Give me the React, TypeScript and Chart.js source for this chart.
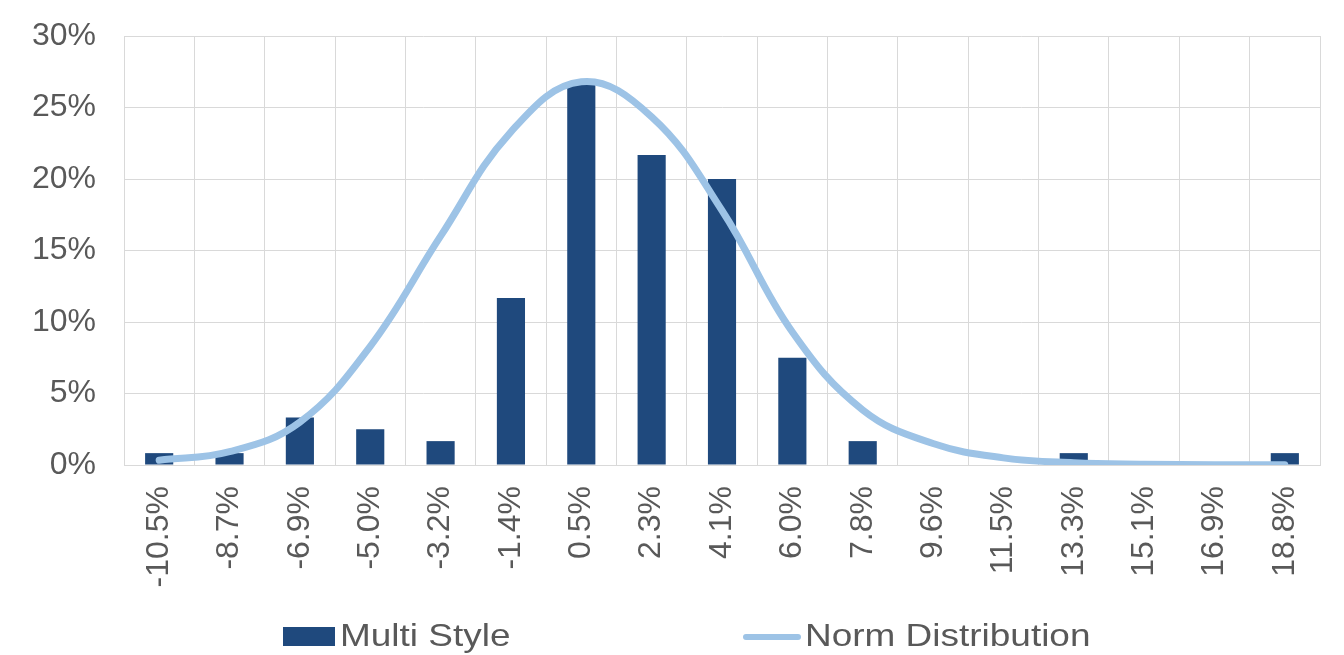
import React, { useEffect, useRef } from "react";
import { Chart, registerables } from "chart.js";

Chart.register(...registerables);

const categories = [
  "-10.5%", "-8.7%", "-6.9%", "-5.0%", "-3.2%", "-1.4%", "0.5%", "2.3%", "4.1%",
  "6.0%", "7.8%", "9.6%", "11.5%", "13.3%", "15.1%", "16.9%", "18.8%",
];

const multiStyle = [
  0.83, 0.83, 3.33, 2.5, 1.67, 11.67, 26.67, 21.67, 20.0,
  7.5, 1.67, 0, 0, 0.83, 0, 0, 0.83,
];

const normDistribution = [
  0.33, 0.93, 3.0, 8.3, 16.0, 23.3, 26.8, 24.35, 17.8,
  9.3, 3.85, 1.5, 0.5, 0.16, 0.06, 0.02, 0.01,
];

const yTicks = [0, 5, 10, 15, 20, 25, 30];

const FONT = "'Liberation Sans', Arial, sans-serif";
const TEXT = "#595959";
const GRID = "#d9d9d9";
const BAR = "#1f497d";
const LINE = "#9dc3e6";

export default function App() {
  const ref = useRef<HTMLCanvasElement | null>(null);

  useEffect(() => {
    if (!ref.current) return;
    const chart = new Chart(ref.current, {
      type: "bar",
      data: {
        labels: categories,
        datasets: [
          {
            type: "bar",
            label: "Multi Style",
            data: multiStyle,
            backgroundColor: BAR,
            categoryPercentage: 1,
            barPercentage: 0.4,
            order: 2,
          },
          {
            type: "line",
            label: "Norm Distribution",
            data: normDistribution,
            borderColor: LINE,
            backgroundColor: LINE,
            borderWidth: 7,
            borderCapStyle: "round",
            borderJoinStyle: "round",
            pointRadius: 0,
            tension: 0.4,
            fill: false,
            order: 1,
          },
        ],
      },
      options: {
        animation: false,
        responsive: false,
        devicePixelRatio: 1,
        layout: { padding: { left: 0, right: 24, top: 36, bottom: 40 } },
        plugins: {
          legend: { display: false },
          tooltip: { enabled: false },
        },
        scales: {
          x: {
            offset: true,
            grid: { color: GRID, lineWidth: 1, drawTicks: false, offset: true },
            border: { color: GRID, width: 1 },
            ticks: {
              autoSkip: false,
              maxRotation: 90,
              minRotation: 90,
              padding: 21,
              color: TEXT,
              font: { family: FONT, size: 32 },
            },
            afterFit: (scale: any) => {
              scale.height = 150;
              scale.paddingTop = 0;
              scale.paddingBottom = 0;
              scale.paddingLeft = 0;
              scale.paddingRight = 0;
            },
          },
          y: {
            min: 0,
            max: 30,
            afterBuildTicks: (scale: any) => {
              scale.ticks = yTicks.map((v) => ({ value: v }));
            },
            grid: { color: GRID, lineWidth: 1, drawTicks: false },
            border: { color: GRID, width: 1 },
            ticks: {
              padding: 28,
              color: TEXT,
              font: { family: FONT, size: 32 },
              callback: (v: any) => `${v}%`,
            },
            afterFit: (scale: any) => {
              scale.width = 124;
              scale.paddingTop = 0;
              scale.paddingBottom = 0;
              scale.paddingLeft = 0;
              scale.paddingRight = 0;
            },
          },
        },
      },
    });
    return () => chart.destroy();
  }, []);

  const legendText: React.CSSProperties = {
    position: "absolute",
    top: 619,
    fontFamily: FONT,
    fontSize: 32,
    lineHeight: "32px",
    color: TEXT,
    whiteSpace: "nowrap",
    transform: "scaleX(1.155)",
    transformOrigin: "0 0",
  };

  return (
    <div
      style={{
        position: "fixed",
        left: 0,
        top: 0,
        width: 1344,
        height: 655,
        overflow: "hidden",
        background: "#fff",
      }}
    >
      <canvas ref={ref} width={1344} height={655} style={{ display: "block", width: 1344, height: 655 }} />
      <div style={{ position: "absolute", left: 283, top: 627, width: 52, height: 19, background: BAR }} />
      <div style={{ ...legendText, left: 340 }}>Multi Style</div>
      <div
        style={{
          position: "absolute",
          left: 743,
          top: 634,
          width: 58,
          height: 6,
          borderRadius: 3,
          background: LINE,
        }}
      />
      <div style={{ ...legendText, left: 805 }}>Norm Distribution</div>
    </div>
  );
}
